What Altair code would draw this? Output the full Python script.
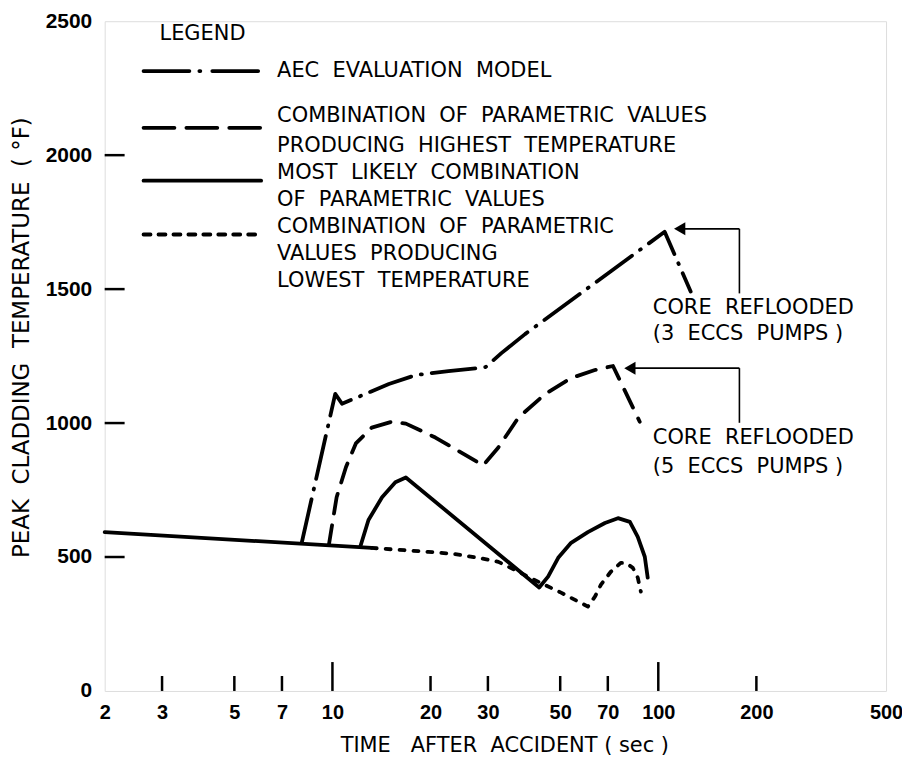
import altair as alt
import pandas as pd

NB = "\u00a0"  # non-breaking space so the wide word gaps survive SVG whitespace collapsing


def wide(s):
    return s.replace(" ", NB + NB)


# ---------------- data (time in s, temperature in deg F) ----------------
common_t = [2.0, 13.2]
common_T = [593, 534]

aec_t = [8.06, 10.2, 10.7, 14.9, 18.0, 22.7, 27.8, 29.5, 33.0, 39.0, 104.6, 125.7]
aec_T = [556, 1109, 1072, 1146, 1179, 1194, 1205, 1209, 1261, 1332, 1714, 1491]

high_t = [9.75, 10.3, 11.0, 11.8, 13.2, 15.2, 16.8, 20.7, 29.0, 32.3, 37.2, 45.0, 54.0, 63.9, 72.6, 87.7]
high_T = [545, 723, 835, 924, 983, 1005, 998, 946, 842, 909, 1020, 1109, 1168, 1198, 1213, 1005]

likely_t = [12.2, 12.9, 14.2, 15.6, 16.8, 43.1, 45.9, 49.3, 54.0, 60.8, 68.6, 75.2, 81.8, 86.5, 90.9, 92.8]
likely_T = [542, 638, 723, 779, 797, 386, 427, 497, 553, 593, 627, 645, 631, 575, 501, 423]

low_t = [13.2, 19.7, 23.5, 28.0, 32.3, 37.2, 43.4, 50.3, 60.8, 63.9, 66.7, 71.5, 76.7, 79.5, 83.5, 86.5, 88.4]
low_T = [534, 519, 512, 497, 482, 445, 404, 367, 315, 352, 397, 445, 478, 478, 460, 423, 371]

x_ticks = [2, 3, 5, 7, 10, 20, 30, 50, 70, 100, 200, 500]
x_minor_ticks = [3, 5, 7, 20, 30, 50, 70, 200]
x_major_ticks = [10, 100]
y_ticks = [0, 500, 1000, 1500, 2000, 2500]
y_inner_ticks = [500, 1000, 1500, 2000]

# arrows ("core reflooded")
arrow_x = [177.4, 177.4]
arrow_ybot = [1484, 1001]
arrow_ytop = [1725, 1205]
arrow_tip = [116.3, 81.8]
ann_x = [96.2, 96.2, 96.2, 96.2]
ann_T = [1428, 1332, 946, 835]
ann_text = ["CORE REFLOODED", "(3 ECCS PUMPS", "CORE REFLOODED", "(5 ECCS PUMPS"]

legend_lines = ["AEC EVALUATION MODEL",
                "COMBINATION OF PARAMETRIC VALUES",
                "PRODUCING HIGHEST TEMPERATURE",
                "MOST LIKELY COMBINATION",
                "OF PARAMETRIC VALUES",
                "COMBINATION OF PARAMETRIC",
                "VALUES PRODUCING",
                "LOWEST TEMPERATURE"]
legend_line_y = [50, 95, 125, 152, 179, 207, 234, 261]
legend_sample_y = [50, 107, 160, 214]

W, H = 784, 672
FONT = "DejaVu Sans"
NUMFONT = "Liberation Sans"

xscale = alt.Scale(type="log", domain=[2, 500], nice=False)
yscale = alt.Scale(domain=[0, 2500], nice=False)

xaxis = alt.Axis(values=x_ticks, format="d", ticks=False, domain=False, grid=False,
                 labelFont=NUMFONT, labelFontSize=20, labelFontWeight="bold", labelColor="black",
                 labelPadding=12, labelFlush=False, labelOverlap=False,
                 title="TIME" + NB * 3 + "AFTER" + NB * 2 + "ACCIDENT" + NB + "( sec )",
                 titleFont=FONT, titleFontSize=21,
                 titleFontWeight="normal", titleColor="black",
                 titleX=401, titleY=55, titleBaseline="middle", titleAlign="center")
yaxis = alt.Axis(values=y_ticks, format="d", ticks=False, domain=False, grid=False,
                 labelFont=NUMFONT, labelFontSize=21, labelFontWeight="bold", labelColor="black",
                 labelPadding=13, labelFlush=False, labelOverlap=False,
                 title=wide("PEAK CLADDING TEMPERATURE") + NB * 2 + "(" + NB + "°F)",
                 titleFont=FONT, titleFontSize=23,
                 titleFontWeight="normal", titleColor="black",
                 titleX=-83, titleY=317, titleBaseline="middle", titleAlign="center", titleAngle=270)


def series(ts, Ts):
    return pd.DataFrame({"t": ts, "T": Ts, "i": list(range(len(ts)))})


def line(df, dash=None, width=3.8):
    kw = dict(color="black", strokeWidth=width, strokeCap="round", strokeJoin="round")
    if dash:
        kw["strokeDash"] = dash
    return alt.Chart(df).mark_line(**kw).encode(
        x=alt.X("t:Q", scale=xscale, axis=xaxis),
        y=alt.Y("T:Q", scale=yscale, axis=yaxis),
        order="i:Q",
    )


layers = []
layers.append(line(series(common_t, common_T)))
layers.append(line(series(aec_t, aec_T), dash=[44, 10, 1, 10]))
layers.append(line(series(high_t, high_T), dash=[20, 12]))
layers.append(line(series(likely_t, likely_T)))
layers.append(line(series(low_t, low_T), dash=[5, 9]))

# inner ticks
tick_df_minor = pd.DataFrame({"t": x_minor_ticks})
tick_df_major = pd.DataFrame({"t": x_major_ticks})
layers.append(alt.Chart(tick_df_minor).mark_rule(color="black", strokeWidth=2.5).encode(
    x=alt.X("t:Q", scale=xscale), y=alt.value(H), y2=alt.value(H - 15)))
layers.append(alt.Chart(tick_df_major).mark_rule(color="black", strokeWidth=2.5).encode(
    x=alt.X("t:Q", scale=xscale), y=alt.value(H), y2=alt.value(H - 29)))
layers.append(alt.Chart(pd.DataFrame({"T": y_inner_ticks})).mark_rule(color="black", strokeWidth=2.5).encode(
    y=alt.Y("T:Q", scale=yscale), x=alt.value(0), x2=alt.value(20)))

# arrows
arr = pd.DataFrame({"x": arrow_x, "yb": arrow_ybot, "yt": arrow_ytop, "tip": arrow_tip})
layers.append(alt.Chart(arr).mark_rule(color="black", strokeWidth=1.6).encode(
    x=alt.X("x:Q", scale=xscale), y=alt.Y("yb:Q", scale=yscale), y2="yt:Q"))
layers.append(alt.Chart(arr).mark_rule(color="black", strokeWidth=1.6).encode(
    x=alt.X("tip:Q", scale=xscale), x2="x:Q", y=alt.Y("yt:Q", scale=yscale)))
layers.append(alt.Chart(arr).mark_point(shape="triangle-left", filled=True, color="black",
                                         size=170, opacity=1).encode(
    x=alt.X("tip:Q", scale=xscale), y=alt.Y("yt:Q", scale=yscale)))

ann = pd.DataFrame({"x": ann_x, "T": ann_T,
                    "txt": [wide(s) + (NB + ")" if s.startswith("(") else "") for s in ann_text]})
layers.append(alt.Chart(ann).mark_text(align="left", baseline="middle", font=FONT, fontSize=21,
                                        color="black").encode(
    x=alt.X("x:Q", scale=xscale), y=alt.Y("T:Q", scale=yscale), text="txt:N"))

# manual legend
layers.append(alt.Chart().mark_text(align="left", baseline="middle", font=FONT, fontSize=21,
                                     color="black").encode(
    x=alt.value(55), y=alt.value(13), text=alt.value("LEGEND")))
for txt, yy in zip(legend_lines, legend_line_y):
    layers.append(alt.Chart().mark_text(align="left", baseline="middle", font=FONT, fontSize=21,
                                         color="black").encode(
        x=alt.value(173), y=alt.value(yy), text=alt.value(wide(txt))))

sample_dashes = [[46, 10, 1, 12], [31, 12], None, [7, 8]]
for yy, dash in zip(legend_sample_y, sample_dashes):
    kw = dict(color="black", strokeWidth=3.8, strokeCap="round")
    if dash:
        kw["strokeDash"] = dash
    layers.append(alt.Chart().mark_rule(**kw).encode(
        x=alt.value(39), x2=alt.value(157), y=alt.value(yy)))

chart = alt.layer(*layers).properties(
    width=W, height=H,
    autosize=alt.AutoSizeParams(type="none"),
    padding={"left": 97, "top": 12, "right": 16, "bottom": 64},
).configure_view(stroke="black", strokeWidth=3.5).configure(background="white")

chart.save("out.html", embed_options={"renderer": "svg", "actions": False})
